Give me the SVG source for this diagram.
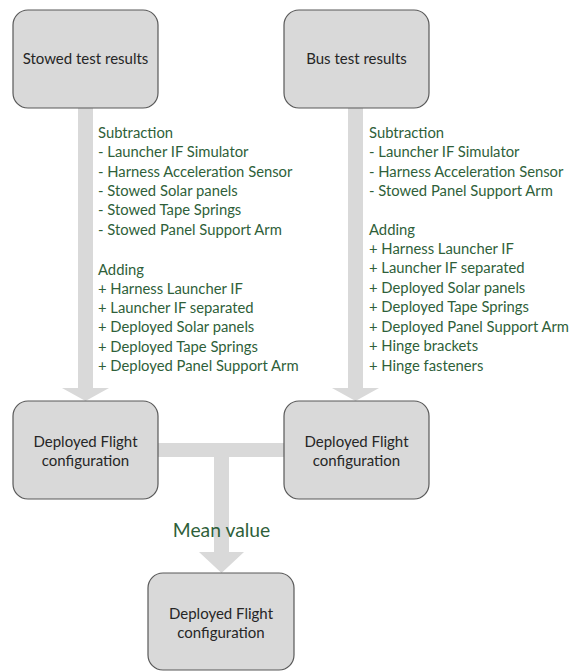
<svg xmlns="http://www.w3.org/2000/svg" width="571" height="671" viewBox="0 0 571 671">
<style>
.box{fill:#d9d9d9;stroke:#595959;stroke-width:1.2}
.conn{fill:#d9d9d9;stroke:none}
.bt{font-family:Lato,"Liberation Sans",Arial,sans-serif;font-size:15px;fill:#262626;text-anchor:middle}
.lt{font-family:Lato,"Liberation Sans",Arial,sans-serif;font-size:14.8px;fill:#2f5f3a}
.mv{font-family:Lato,"Liberation Sans",Arial,sans-serif;font-size:19.3px;fill:#2f5f3a;text-anchor:middle}
</style>
<rect width="571" height="671" fill="#ffffff"/>
<g id="connectors">
<polygon class="conn" points="78,108 93,108 93,388 109,388 85.5,401 62,388 78,388"/>
<polygon class="conn" points="348,108 363,108 363,388 379,388 355.5,401 332,388 348,388"/>
<rect class="conn" x="158" y="443" width="126" height="14"/>
<polygon class="conn" points="214,457 229,457 229,552 244,552 221.5,573 199,552 214,552"/>
</g>
<g id="stowed">
<rect class="box" x="13" y="10" width="145" height="98" rx="15"/>
<text class="bt" x="85.5" y="64">Stowed test results</text>
</g>
<g id="bus">
<rect class="box" x="284" y="10" width="145" height="98" rx="15"/>
<text class="bt" x="356.5" y="64">Bus test results</text>
</g>
<g id="left-list">
<text class="lt" x="98" y="138">Subtraction</text>
<text class="lt" x="98" y="157">- Launcher IF Simulator</text>
<text class="lt" x="98" y="177">- Harness Acceleration Sensor</text>
<text class="lt" x="98" y="196">- Stowed Solar panels</text>
<text class="lt" x="98" y="215">- Stowed Tape Springs</text>
<text class="lt" x="98" y="235">- Stowed Panel Support Arm</text>
<text class="lt" x="98" y="275">Adding</text>
<text class="lt" x="98" y="294">+ Harness Launcher IF</text>
<text class="lt" x="98" y="313">+ Launcher IF separated</text>
<text class="lt" x="98" y="332">+ Deployed Solar panels</text>
<text class="lt" x="98" y="352">+ Deployed Tape Springs</text>
<text class="lt" x="98" y="371">+ Deployed Panel Support Arm</text>
</g>
<g id="right-list">
<text class="lt" x="369" y="138">Subtraction</text>
<text class="lt" x="369" y="157">- Launcher IF Simulator</text>
<text class="lt" x="369" y="177">- Harness Acceleration Sensor</text>
<text class="lt" x="369" y="196">- Stowed Panel Support Arm</text>
<text class="lt" x="369" y="235">Adding</text>
<text class="lt" x="369" y="254">+ Harness Launcher IF</text>
<text class="lt" x="369" y="273">+ Launcher IF separated</text>
<text class="lt" x="369" y="293">+ Deployed Solar panels</text>
<text class="lt" x="369" y="312">+ Deployed Tape Springs</text>
<text class="lt" x="369" y="332" textLength="200" lengthAdjust="spacingAndGlyphs">+ Deployed Panel Support Arm</text>
<text class="lt" x="369" y="351">+ Hinge brackets</text>
<text class="lt" x="369" y="371">+ Hinge fasteners</text>
</g>
<g id="deployed-left">
<rect class="box" x="13" y="401" width="145" height="98" rx="15"/>
<text class="bt" x="85.5" y="447">Deployed Flight</text>
<text class="bt" x="85.5" y="466">configuration</text>
</g>
<g id="deployed-right">
<rect class="box" x="284" y="401" width="145" height="98" rx="15"/>
<text class="bt" x="356.5" y="447">Deployed Flight</text>
<text class="bt" x="356.5" y="466">configuration</text>
</g>
<text class="mv" x="221.5" y="537">Mean value</text>
<g id="deployed-mean">
<rect class="box" x="148" y="573" width="146" height="97" rx="15"/>
<text class="bt" x="221" y="619">Deployed Flight</text>
<text class="bt" x="221" y="638">configuration</text>
</g>
</svg>
